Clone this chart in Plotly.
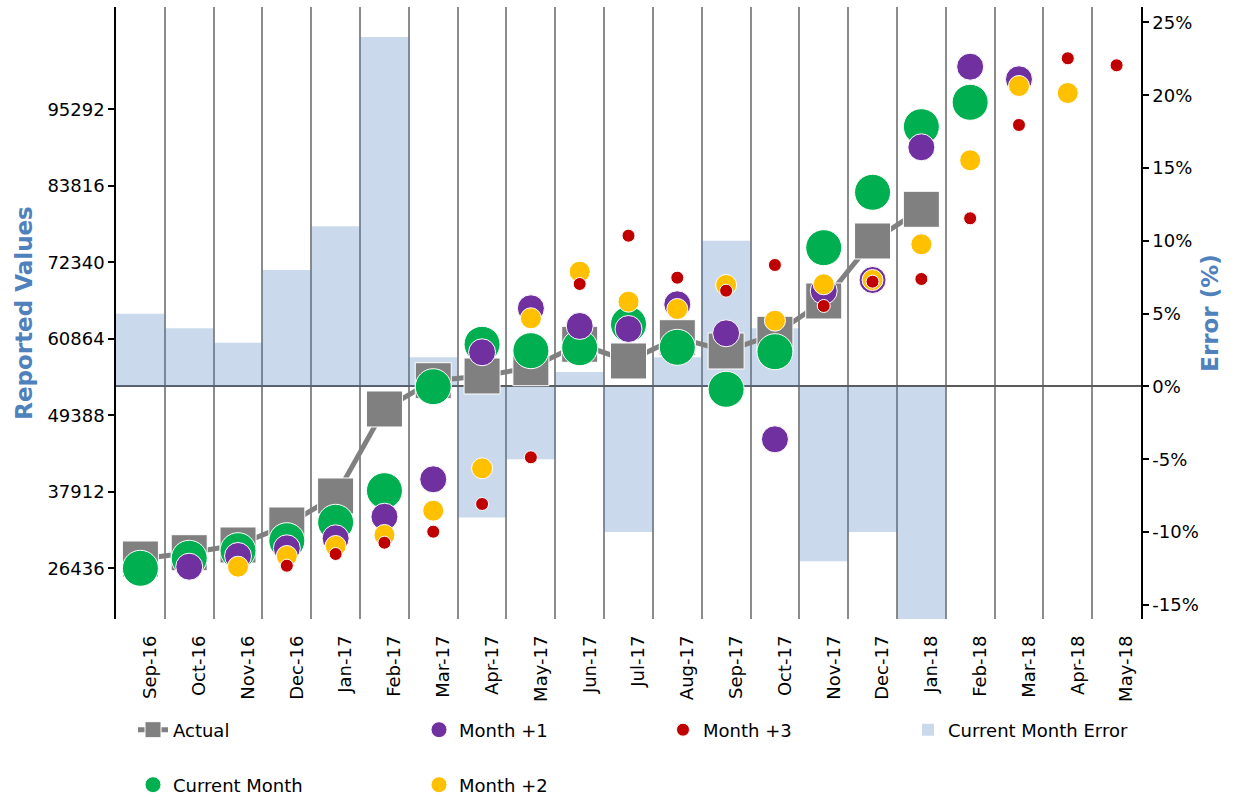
import plotly.graph_objects as go

months = ['Sep-16', 'Oct-16', 'Nov-16', 'Dec-16', 'Jan-17', 'Feb-17', 'Mar-17', 'Apr-17',
          'May-17', 'Jun-17', 'Jul-17', 'Aug-17', 'Sep-17', 'Oct-17', 'Nov-17', 'Dec-17',
          'Jan-18', 'Feb-18', 'Mar-18', 'Apr-18', 'May-18']

actual = [27831, 28776, 29931, 32931, 37281, 50331, 54576, 55281, 56526, 60036, 57531,
          61026, 59031, 61536, 66531, 75531, 80286, None, None, None, None]

current_month = [26436, 27936, 29076, 30576, 33336, 38076, 53676, 60036, 59076, 59526, 63036,
                 59586, 53286, 58926, 74526, 82836, 92676, 96336, None, None, None]

month_plus1 = [None, 26676, 28281, 29436, 30936, 34176, 39786, 58836, 65436, 62781, 62331,
               66036, 61686, 45786, 68031, 69681, 89586, 101676, 99786, None, None]

month_plus2 = [None, None, 26676, 28281, 29781, 31431, 35076, 41436, 63936, 70926, 66426,
               65331, 68931, 63576, 69036, 69681, 75036, 87636, 98781, 97731, None]

month_plus3 = [None, None, None, 26826, 28581, 30276, 31926, 36081, 43086, 69081, 76326,
               70026, 68076, 71931, 65781, 69430, 69831, 78936, 92931, 102936, 101886]

current_error = [0.05, 0.04, 0.03, 0.08, 0.11, 0.24, 0.02, -0.09, -0.05, 0.01, -0.10,
                 0.02, 0.10, 0.04, -0.12, -0.10, -0.16, None, None, None, None]

value_ticks = [26436, 37912, 49388, 60864, 72340, 83816, 95292]
error_ticks = [-0.15, -0.10, -0.05, 0.0, 0.05, 0.10, 0.15, 0.20, 0.25]
error_tick_text = ['%d%%' % round(v * 100) for v in error_ticks]

FONT = 'DejaVu Sans'
BLUE = '#4F81BD'

fig = go.Figure()

fig.add_trace(go.Bar(
    x=months, y=current_error, yaxis='y', width=1,
    marker=dict(color='rgba(79,129,189,0.3)', line=dict(width=0)),
    name='Current Month Error', legend='legend4'))

fig.add_trace(go.Scatter(
    x=months, y=actual, yaxis='y2', mode='lines+markers',
    line=dict(color='#808080', width=5),
    marker=dict(symbol='square', size=36, color='#808080', line=dict(width=1, color='white')),
    name='Actual', legend='legend'))

fig.add_trace(go.Scatter(
    x=months, y=current_month, yaxis='y2', mode='markers',
    marker=dict(size=36, color='#00B050', line=dict(width=1, color='white')),
    name='Current Month', legend='legend5'))

fig.add_trace(go.Scatter(
    x=months, y=month_plus1, yaxis='y2', mode='markers',
    marker=dict(size=27, color='#7030A0', line=dict(width=1, color='white')),
    name='Month +1', legend='legend2'))

fig.add_trace(go.Scatter(
    x=months, y=month_plus2, yaxis='y2', mode='markers',
    marker=dict(size=21, color='#FFC000', line=dict(width=1, color='white')),
    name='Month +2', legend='legend6'))

fig.add_trace(go.Scatter(
    x=months, y=month_plus3, yaxis='y2', mode='markers',
    marker=dict(size=13, color='#C00000', line=dict(width=1, color='white')),
    name='Month +3', legend='legend3'))

W, H = 1239, 802
L, R, T, B = 116, 98, 7, 183
pw, ph = W - L - R, H - T - B


def lx(px):
    return (px - L) / pw


def ly(py):
    return (H - B - py) / ph


leg_common = dict(orientation='v', xanchor='left', yanchor='middle',
                  font=dict(family=FONT, size=18, color='black'),
                  bgcolor='rgba(0,0,0,0)', itemsizing='trace')

fig.update_layout(
    width=W, height=H,
    margin=dict(l=L, r=R, t=T, b=B, autoexpand=False),
    paper_bgcolor='white', plot_bgcolor='white',
    barmode='overlay',
    showlegend=True,
    xaxis=dict(type='category', categoryorder='array', categoryarray=months,
               range=[-0.5, len(months) - 0.5], tickson='boundaries',
               showgrid=True, gridcolor='#8c8c8c', gridwidth=1.5,
               ticks='', tickangle=-90, ticklabelshift=10, ticklabelstandoff=12,
               tickfont=dict(family=FONT, size=18, color='black'),
               showline=False, zeroline=False),
    yaxis=dict(side='right', range=[-0.1597, 0.2606], tickmode='array', tickvals=error_ticks,
               ticktext=error_tick_text, showgrid=False,
               zeroline=True, zerolinecolor='#5a5a5a', zerolinewidth=2,
               showline=True, linecolor='black', linewidth=1.5,
               ticks='outside', ticklen=6, tickcolor='black', tickwidth=1.5,
               tickfont=dict(family=FONT, size=18, color='black'),
               title=dict(text='Error (%)', standoff=4,
                          font=dict(family=FONT, size=23, color=BLUE, weight='bold'))),
    yaxis2=dict(overlaying='y', side='left', range=[18830, 110630], tickmode='array',
                tickvals=value_ticks, tickformat='d', showgrid=False, zeroline=False,
                showline=True, linecolor='black', linewidth=1.5,
                ticks='outside', ticklen=6, tickcolor='black', tickwidth=1.5,
                tickfont=dict(family=FONT, size=18, color='black'),
                title=dict(text='Reported Values', standoff=8,
                           font=dict(family=FONT, size=23, color=BLUE, weight='bold'))),
    legend=dict(x=lx(133), y=ly(730), **leg_common),
    legend2=dict(x=lx(419), y=ly(730), **leg_common),
    legend3=dict(x=lx(663), y=ly(730), **leg_common),
    legend4=dict(x=lx(908), y=ly(730), **leg_common),
    legend5=dict(x=lx(133), y=ly(785), **leg_common),
    legend6=dict(x=lx(419), y=ly(785), **leg_common),
)

fig.write_html('out.html', config={'displayModeBar': False},
               post_script="document.body.style.margin='0';")
